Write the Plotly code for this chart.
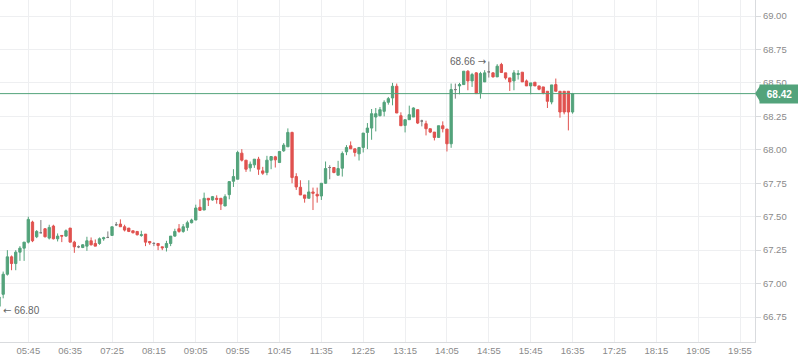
import pandas as pd
import plotly.graph_objects as go

# 5-minute candles from 05:10 to 16:35
times = pd.date_range("2024-01-02 05:10", "2024-01-02 16:35", freq="5min")

opens = [
    66.83, 66.92, 67.07, 67.20, 67.15, 67.235, 67.265, 67.31, 67.46, 67.35,
    67.38, 67.41, 67.34, 67.43, 67.335, 67.36, 67.355, 67.415, 67.31, 67.275,
    67.27, 67.28, 67.32, 67.30, 67.30, 67.335, 67.345, 67.36, 67.44, 67.445,
    67.425, 67.415, 67.395, 67.39, 67.36, 67.37, 67.315, 67.30, 67.30, 67.275,
    67.27, 67.30, 67.355, 67.41, 67.39, 67.42, 67.455, 67.475,
    67.57, 67.55, 67.6375, 67.625, 67.6375, 67.6375, 67.58, 67.665, 67.765, 67.78,
    67.975, 67.9225, 67.865, 67.8875, 67.93, 67.8425, 67.83, 67.9225, 67.9475, 67.905,
    67.9925, 68.0225, 68.13, 67.80, 67.72, 67.6625, 67.6375, 67.685, 67.6675, 67.655,
    67.75, 67.8675, 67.8675, 67.81, 67.8625, 67.985,
    68.03, 68.0075, 67.97, 68.0175, 68.13, 68.1625, 68.245, 68.255, 68.2875, 68.355,
    68.3875, 68.475, 68.255, 68.1825, 68.225, 68.245, 68.30, 68.215, 68.195, 68.1575,
    68.1325, 68.0925, 68.18, 68.155, 68.045, 68.45, 68.4775, 68.4875, 68.5875, 68.515,
    68.575, 68.4275, 68.5075, 68.5825, 68.575, 68.545, 68.6375, 68.575, 68.5375, 68.515,
    68.5625, 68.58, 68.515, 68.4775, 68.505, 68.4775, 68.47, 68.4375, 68.3575, 68.4875,
    68.4375, 68.4375, 68.4375, 68.2825,
]
highs = [
    66.91, 67.09, 67.25, 67.21, 67.25, 67.28, 67.31, 67.50, 67.47, 67.40,
    67.475, 67.415, 67.44, 67.44, 67.375, 67.36, 67.405, 67.415, 67.32, 67.285,
    67.295, 67.35, 67.345, 67.33, 67.345, 67.35, 67.39, 67.425, 67.46, 67.48,
    67.44, 67.415, 67.395, 67.39, 67.395, 67.37, 67.315, 67.31, 67.30, 67.275,
    67.32, 67.355, 67.41, 67.445, 67.445, 67.47, 67.485, 67.59,
    67.63, 67.68, 67.64, 67.655, 67.66, 67.64, 67.6675, 67.7625, 67.855, 67.9925,
    68.005, 67.9225, 67.9125, 67.93, 67.9475, 67.8725, 67.955, 67.95, 67.955, 67.9875,
    68.05, 68.16, 68.135, 67.825, 67.7725, 67.6625, 67.7725, 67.7175, 67.7175, 67.75,
    67.9125, 67.885, 67.8675, 67.9175, 67.9875, 68.035,
    68.0625, 68.0075, 68.0175, 68.125, 68.20, 68.305, 68.3125, 68.32, 68.37, 68.395,
    68.50, 68.495, 68.28, 68.225, 68.33, 68.3175, 68.30, 68.225, 68.2175, 68.1575,
    68.1325, 68.18, 68.2125, 68.155, 68.495, 68.495, 68.50, 68.5875, 68.595, 68.575,
    68.58, 68.5825, 68.595, 68.66, 68.58, 68.64, 68.65, 68.575, 68.5375, 68.595,
    68.595, 68.58, 68.525, 68.50, 68.505, 68.4775, 68.47, 68.4375, 68.485, 68.5325,
    68.4375, 68.4375, 68.4375, 68.425,
]
lows = [
    66.80, 66.89, 67.06, 67.10, 67.10, 67.17, 67.17, 67.30, 67.31, 67.34,
    67.38, 67.345, 67.33, 67.33, 67.315, 67.31, 67.35, 67.31, 67.23, 67.265,
    67.265, 67.245, 67.285, 67.28, 67.29, 67.32, 67.34, 67.36, 67.43, 67.425,
    67.39, 67.385, 67.375, 67.36, 67.35, 67.28, 67.29, 67.28, 67.25, 67.25,
    67.24, 67.28, 67.35, 67.38, 67.38, 67.395, 67.45, 67.475,
    67.5425, 67.55, 67.58, 67.62, 67.5975, 67.55, 67.58, 67.63, 67.7225, 67.78,
    67.9125, 67.835, 67.8375, 67.865, 67.8125, 67.8125, 67.81, 67.855, 67.8675, 67.905,
    67.985, 68.0225, 67.75, 67.70, 67.6625, 67.605, 67.6375, 67.55, 67.605, 67.625,
    67.745, 67.78, 67.825, 67.81, 67.80, 67.96,
    68.0075, 67.95, 67.92, 67.98, 68.005, 68.075, 68.1375, 68.25, 68.25, 68.3375,
    68.3325, 68.275, 68.18, 68.13, 68.225, 68.245, 68.1925, 68.175, 68.1075, 68.125,
    68.07, 68.0925, 68.13, 67.9875, 68.015, 68.3825, 68.415, 68.4875, 68.445, 68.47,
    68.42, 68.3825, 68.5075, 68.54, 68.54, 68.545, 68.5775, 68.525, 68.44, 68.445,
    68.525, 68.5075, 68.4775, 68.415, 68.4775, 68.445, 68.415, 68.3125, 68.34, 68.4375,
    68.24, 68.265, 68.145, 68.27,
]
closes = [
    66.90, 67.07, 67.20, 67.15, 67.235, 67.265, 67.31, 67.48, 67.32, 67.39,
    67.38, 67.35, 67.42, 67.335, 67.355, 67.355, 67.395, 67.31, 67.275, 67.275,
    67.29, 67.32, 67.29, 67.28, 67.335, 67.342, 67.345, 67.425, 67.44, 67.425,
    67.40, 67.39, 67.38, 67.365, 67.365, 67.31, 67.305, 67.30, 67.285, 67.268,
    67.30, 67.355, 67.39, 67.39, 67.425, 67.455, 67.475, 67.565,
    67.5475, 67.6375, 67.625, 67.65, 67.63, 67.595, 67.65, 67.7625, 67.80, 67.98,
    67.9225, 67.855, 67.8925, 67.93, 67.855, 67.825, 67.9225, 67.95, 67.925, 67.9875,
    68.035, 68.13, 67.7925, 67.7225, 67.6625, 67.6375, 67.685, 67.675, 67.655, 67.75,
    67.86, 67.8675, 67.83, 67.86, 67.9725, 68.0175,
    68.0075, 67.98, 68.0175, 68.125, 68.1625, 68.27, 68.27, 68.30, 68.355, 68.3825,
    68.475, 68.275, 68.18, 68.225, 68.2625, 68.3125, 68.20, 68.215, 68.1575, 68.1325,
    68.0925, 68.18, 68.1575, 68.045, 68.45, 68.45, 68.4875, 68.5875, 68.515, 68.5625,
    68.42, 68.57, 68.575, 68.5825, 68.545, 68.625, 68.5775, 68.5375, 68.5075, 68.575,
    68.57, 68.5075, 68.4775, 68.50, 68.4775, 68.4525, 68.425, 68.3625, 68.485, 68.4375,
    68.2825, 68.2825, 68.2825, 68.42,
]

x_tick_labels = ["05:45", "06:35", "07:25", "08:15", "09:05", "09:55", "10:45", "11:35",
                 "12:25", "13:15", "14:05", "14:55", "15:45", "16:35", "17:25", "18:15",
                 "19:05", "19:55"]
y_ticks = [66.75, 67.00, 67.25, 67.50, 67.75, 68.00, 68.25, 68.50, 68.75, 69.00]

last_price = 68.42
max_price = 68.66
min_price = 66.80

GREEN = "#53a37b"
RED = "#e0524f"
GRAY = "#7d7d7d"
GRID = "#eeeff1"
AXIS = "#d9dbde"
TXT = "#8a8a8a"

df = pd.DataFrame({"t": times, "o": opens, "h": highs, "l": lows, "c": closes})
doji = df[df.o == df.c]
main = df[df.o != df.c]

fig = go.Figure()
fig.add_trace(go.Candlestick(
    x=main.t, open=main.o, high=main.h, low=main.l, close=main.c,
    increasing=dict(line=dict(color=GREEN, width=1), fillcolor=GREEN),
    decreasing=dict(line=dict(color=RED, width=1), fillcolor=RED),
    whiskerwidth=0, showlegend=False, hoverinfo="skip",
))
fig.add_trace(go.Candlestick(
    x=doji.t, open=doji.o, high=doji.h, low=doji.l, close=doji.c,
    increasing=dict(line=dict(color=GRAY, width=1), fillcolor=GRAY),
    decreasing=dict(line=dict(color=GRAY, width=1), fillcolor=GRAY),
    whiskerwidth=0, showlegend=False, hoverinfo="skip",
))

day = "2024-01-02 "
tickvals = [pd.Timestamp(day + s) for s in x_tick_labels]

fig.add_shape(type="line", xref="paper", x0=0, x1=1, yref="y", y0=last_price, y1=last_price,
              line=dict(color=GREEN, width=1), layer="above")
fig.add_shape(type="path", xref="paper", yref="y",
              path=f"M 1.0,{last_price} L 1.0075,{last_price + 0.066} L 1.0075,{last_price - 0.066} Z",
              fillcolor=GREEN, line=dict(width=0), layer="above")

fig.add_annotation(xref="paper", x=1, xanchor="left", xshift=4, yref="y", y=last_price,
                   text=f"<b>{last_price:.2f}</b>", showarrow=False,
                   font=dict(family="Liberation Sans", size=10, color="white"),
                   bgcolor=GREEN, width=35, height=14, borderpad=2)
fig.add_annotation(x=pd.Timestamp(day + "14:55"), xanchor="right", xshift=-1,
                   y=max_price, yanchor="middle",
                   text=f"{max_price:.2f} <span style='font-family:DejaVu Sans'>→</span>",
                   showarrow=False,
                   font=dict(family="Liberation Sans", size=10, color="#666666"))
fig.add_annotation(xref="paper", x=0, xanchor="left", xshift=1,
                   yref="y", y=min_price, yanchor="middle",
                   text=f"<span style='font-family:DejaVu Sans'>←</span> {min_price:.2f}",
                   showarrow=False,
                   font=dict(family="Liberation Sans", size=10, color="#666666"))

fig.update_layout(
    width=798, height=363,
    margin=dict(l=0, r=43, t=0, b=21),
    paper_bgcolor="white", plot_bgcolor="white",
    boxgap=0.45, boxgroupgap=0,
    font=dict(family="Liberation Sans", size=9.5, color=TXT),
    xaxis=dict(
        type="date",
        range=[pd.Timestamp(day + "05:11:12"), pd.Timestamp(day + "20:12:54")],
        tickvals=tickvals, ticktext=x_tick_labels,
        showgrid=True, gridcolor=GRID, gridwidth=1,
        showline=True, linecolor=AXIS, linewidth=1,
        ticks="", zeroline=False,
        rangeslider=dict(visible=False),
        tickfont=dict(size=9.5, color=TXT),
    ),
    yaxis=dict(
        side="right",
        range=[66.5636, 69.1196],
        tickvals=y_ticks, tickformat=".2f",
        showgrid=True, gridcolor=GRID, gridwidth=1,
        showline=True, linecolor=AXIS, linewidth=1,
        ticks="outside", ticklen=5, tickcolor=AXIS,
        zeroline=False,
        tickfont=dict(size=9.5, color=TXT),
    ),
)

fig.write_html("out.html")
